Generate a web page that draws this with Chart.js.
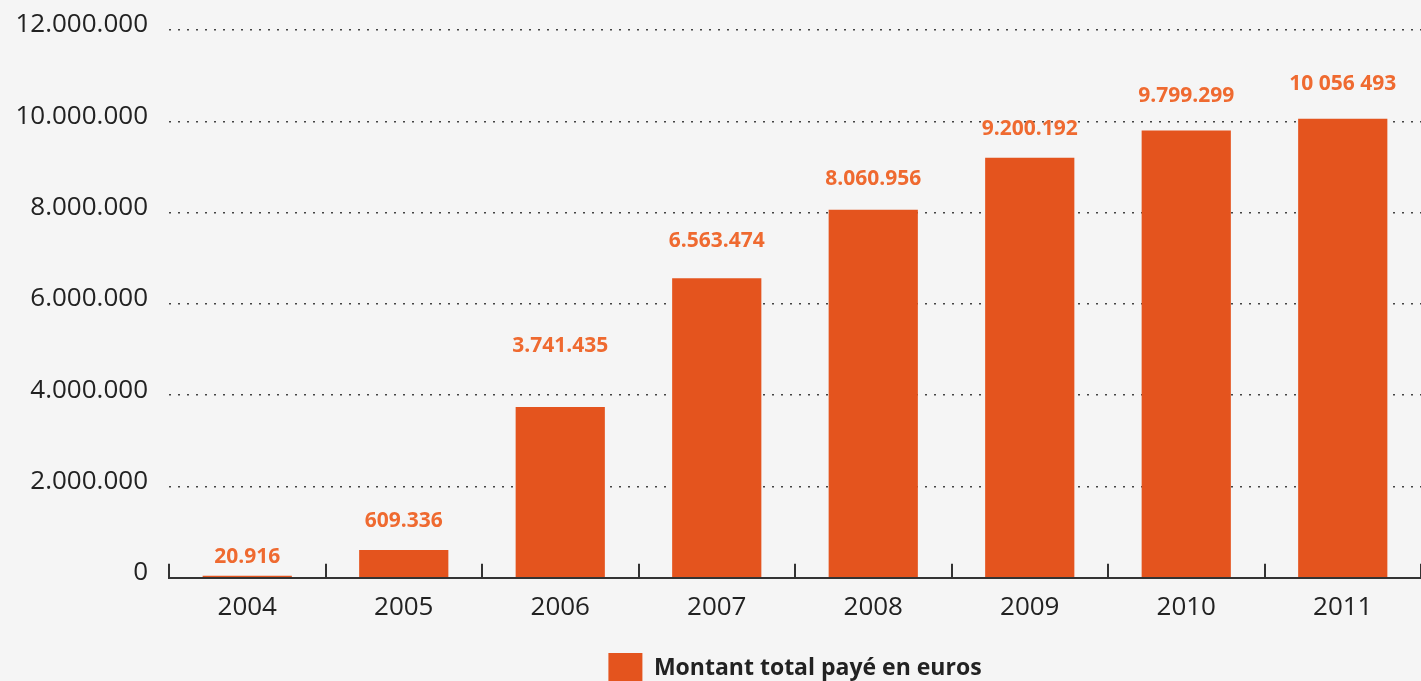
<!DOCTYPE html>
<html lang="fr">
<head>
<meta charset="utf-8">
<title>Montant total payé en euros</title>
<script src="https://cdn.jsdelivr.net/npm/chart.js@4.4.1/dist/chart.umd.min.js"></script>
<style>
    html, body { margin: 0; padding: 0; background: #f5f5f5; }
    #box { width: 1421px; height: 681px; position: relative; }
</style>
</head>
<body>
<div id="box"><canvas id="montant"></canvas></div>
<script>
// dados
const annees = ['2004', '2005', '2006', '2007', '2008', '2009', '2010', '2011'];
const montants = [20916, 609336, 3741435, 6563474, 8060956, 9200192, 9799299, 10056493];
const etiquettes = ['20.916', '609.336', '3.741.435', '6.563.474', '8.060.956', '9.200.192', '9.799.299', '10 056 493'];
const graduations = [0, 2000000, 4000000, 6000000, 8000000, 10000000, 12000000];

const orange = '#e4541e';
const orangeTexte = '#ef6a30';
const gris = '#333333';

function formaterNombre(v) {
    return String(v).replace(/\B(?=(\d{3})+(?!\d))/g, '.');
}

// etiquetas acima das barras
const pluginEtiquettes = {
    id: 'etiquettes',
    afterDatasetsDraw(chart, args, opts) {
        const ctx = chart.ctx;
        const meta = chart.getDatasetMeta(0);
        ctx.save();
        ctx.font = 'bold 21px "Open Sans"';
        ctx.fillStyle = orangeTexte;
        ctx.textAlign = 'center';
        ctx.textBaseline = 'middle';
        meta.data.forEach(function (barre, i) {
            ctx.fillText(etiquettes[i], barre.x, barre.y - opts.decalages[i]);
        });
        ctx.restore();
    }
};

// pequenos traços verticais no eixo x, entre as categorias
const pluginTraits = {
    id: 'traits',
    afterDraw(chart) {
        const ctx = chart.ctx;
        const x = chart.scales.x;
        const bas = chart.chartArea.bottom;
        const pas = x.getPixelForTick(1) - x.getPixelForTick(0);
        ctx.save();
        ctx.strokeStyle = gris;
        ctx.lineWidth = 2;
        for (let i = 0; i <= annees.length; i++) {
            const px = Math.round(x.getPixelForTick(0) - pas / 2 + i * pas);
            ctx.beginPath();
            ctx.moveTo(px, bas - 14);
            ctx.lineTo(px, bas);
            ctx.stroke();
        }
        ctx.restore();
    }
};

const dados = {
    labels: annees,
    datasets: [{
        label: 'Montant total payé en euros',
        data: montants,
        backgroundColor: orange,
        borderWidth: 0,
        barPercentage: 0.57,
        categoryPercentage: 1,
        minBarLength: 2
    }]
};

const config = {
    type: 'bar',
    data: dados,
    plugins: [pluginEtiquettes, pluginTraits],
    options: {
        responsive: true,
        maintainAspectRatio: false,
        animation: false,
        layout: { padding: { top: 30, right: 0, left: 12, bottom: -12 } },
        plugins: {
            tooltip: { enabled: false },
            etiquettes: { decalages: [19, 29, 61, 37, 31, 29, 34, 35] },
            legend: {
                position: 'bottom',
                fullSize: false,
                labels: {
                    boxWidth: 34,
                    boxHeight: 30,
                    padding: 16,
                    color: '#222222',
                    font: { family: 'Open Sans', size: 23, weight: 'bold' }
                }
            }
        },
        scales: {
            x: {
                grid: { display: false, drawTicks: false },
                border: { display: true, color: gris, width: 2, z: -1 },
                ticks: {
                    color: '#222222',
                    padding: 14,
                    font: { family: 'Open Sans', size: 26 }
                }
            },
            y: {
                min: 0,
                max: 12000000,
                afterBuildTicks: function (scale) {
                    scale.ticks = graduations.map(function (v) { return { value: v }; });
                },
                afterFit: function (scale) {
                    scale.width = 157;
                    scale.paddingTop = 0;
                    scale.paddingBottom = 0;
                },
                grid: {
                    color: function (c) { return c.tick.value === 0 ? 'rgba(0,0,0,0)' : '#444444'; },
                    lineWidth: 1.5,
                    drawTicks: false
                },
                border: { display: false, dash: [2, 7] },
                ticks: {
                    color: '#222222',
                    padding: 21,
                    labelOffset: -5,
                    font: { family: 'Open Sans', size: 26 },
                    callback: function (v) { return formaterNombre(v); }
                }
            }
        }
    }
};

let graphique = new Chart(document.getElementById('montant'), config);
</script>
</body>
</html>
